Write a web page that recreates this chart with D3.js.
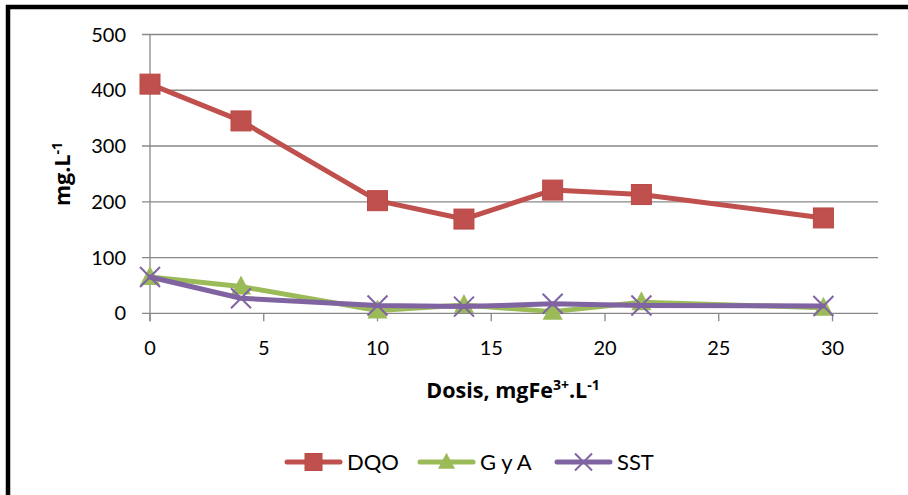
<!DOCTYPE html>
<html><head><meta charset="utf-8">
<script src="https://cdn.jsdelivr.net/npm/d3@7"></script>
<style>html,body{margin:0;padding:0;background:#fff;}svg{display:block;font-family:Lato,"Open Sans",sans-serif;}</style>
</head><body>
<svg id="c" width="908" height="495"></svg>
<script>
const dosis = [0, 4, 10, 13.8, 17.7, 21.6, 29.6];
const dqo = [411, 345, 202, 169, 221, 213, 171];
const gya = [65, 48, 5, 15, 3, 20, 10];
const sst = [65, 27, 14, 12, 17, 14, 13];
const xTicks = [0, 5, 10, 15, 20, 25, 30];
const yTicks = [0, 100, 200, 300, 400, 500];
const seriesNames = ["DQO", "G y A", "SST"];
const colors = ["#C0504D", "#9BBB59", "#8064A2"];

const svg = d3.select("#c");
// outer border
svg.append("rect").attr("x", 8).attr("y", 7).attr("width", 1000).attr("height", 600)
  .attr("fill", "none").attr("stroke", "#000").attr("stroke-width", 4.5);

const x = d3.scaleLinear().domain([0, 32]).range([150, 878]);
const y = d3.scaleLinear().domain([0, 500]).range([313.3, 34.5]);

// gridlines
svg.append("g").selectAll("line").data(yTicks).join("line")
  .attr("x1", 142).attr("x2", 878).attr("y1", d => y(d)).attr("y2", d => y(d))
  .attr("stroke", "#888").attr("stroke-width", 1.3);
// y axis line
svg.append("line").attr("x1", 150).attr("x2", 150).attr("y1", y(500)).attr("y2", y(0) + 8)
  .attr("stroke", "#888").attr("stroke-width", 1.3);
// x ticks
svg.append("g").selectAll("line").data(xTicks).join("line")
  .attr("x1", d => x(d)).attr("x2", d => x(d)).attr("y1", y(0)).attr("y2", y(0) + 8)
  .attr("stroke", "#888").attr("stroke-width", 1.3);
// tick labels
svg.append("g").selectAll("text").data(yTicks).join("text")
  .attr("x", 126).attr("y", d => y(d)).attr("dy", "0.35em").attr("text-anchor", "end")
  .attr("font-size", 20).attr("fill", "#000").text(d => d);
svg.append("g").selectAll("text").data(xTicks).join("text")
  .attr("x", d => x(d)).attr("y", 355).attr("text-anchor", "middle")
  .attr("font-size", 20).attr("fill", "#000").text(d => d);

// axis titles
const xt = svg.append("text").attr("x", 513).attr("y", 398).attr("text-anchor", "middle")
  .attr("font-size", 21.5).attr("font-weight", "bold").attr("font-family", "'Open Sans', sans-serif");
xt.append("tspan").text("Dosis, mgFe");
xt.append("tspan").attr("font-size", 14).attr("dy", -8).text("3+");
xt.append("tspan").attr("dy", 8).text(".L");
xt.append("tspan").attr("font-size", 14).attr("dy", -8).text("-1");

const yt = svg.append("text").attr("transform", "translate(70,174) rotate(-90)").attr("text-anchor", "middle")
  .attr("font-size", 21.5).attr("font-weight", "bold").attr("font-family", "'Open Sans', sans-serif");
yt.append("tspan").text("mg.L");
yt.append("tspan").attr("font-size", 14).attr("dy", -8).text("-1");

const data = [dqo, gya, sst];
const line = d3.line().x(d => x(d[0])).y(d => y(d[1]));

function marker(g, type, color, s) {
  if (type === 0) {
    g.append("rect").attr("x", -10 * s).attr("y", -10 * s).attr("width", 20 * s).attr("height", 20 * s)
      .attr("fill", color).attr("stroke", "#b94a47").attr("stroke-width", 1);
  } else if (type === 1) {
    g.append("path").attr("d", `M0,${-11 * s} L${10 * s},${8 * s} L${-10 * s},${8 * s} Z`).attr("fill", color);
  } else {
    g.append("path").attr("d", `M${-10 * s},${-10 * s} L${10 * s},${10 * s} M${-10 * s},${10 * s} L${10 * s},${-10 * s}`)
      .attr("stroke", color).attr("stroke-width", 2).attr("fill", "none");
  }
}

// draw series
data.forEach((vals, i) => {
  const pts = dosis.map((d, j) => [d, vals[j]]);
  svg.append("path").attr("d", line(pts)).attr("fill", "none").attr("stroke", colors[i])
    .attr("stroke-width", 5).attr("stroke-linejoin", "round").attr("stroke-linecap", "round");
  pts.forEach(p => {
    const g = svg.append("g").attr("transform", `translate(${x(p[0])},${y(p[1])})`);
    marker(g, i, colors[i], 1);
  });
});

// legend
const legX = [287, 420, 557];
seriesNames.forEach((n, i) => {
  const g = svg.append("g").attr("transform", `translate(${legX[i]},462)`);
  g.append("line").attr("x1", 0).attr("x2", 53).attr("y1", 0).attr("y2", 0)
    .attr("stroke", colors[i]).attr("stroke-width", 5).attr("stroke-linecap", "round");
  const m = g.append("g").attr("transform", "translate(26.5,0)");
  marker(m, i, colors[i], 0.85);
  g.append("text").attr("x", 60).attr("y", 0).attr("dy", "0.35em").attr("font-size", 22).text(n);
});
</script>
</body></html>
